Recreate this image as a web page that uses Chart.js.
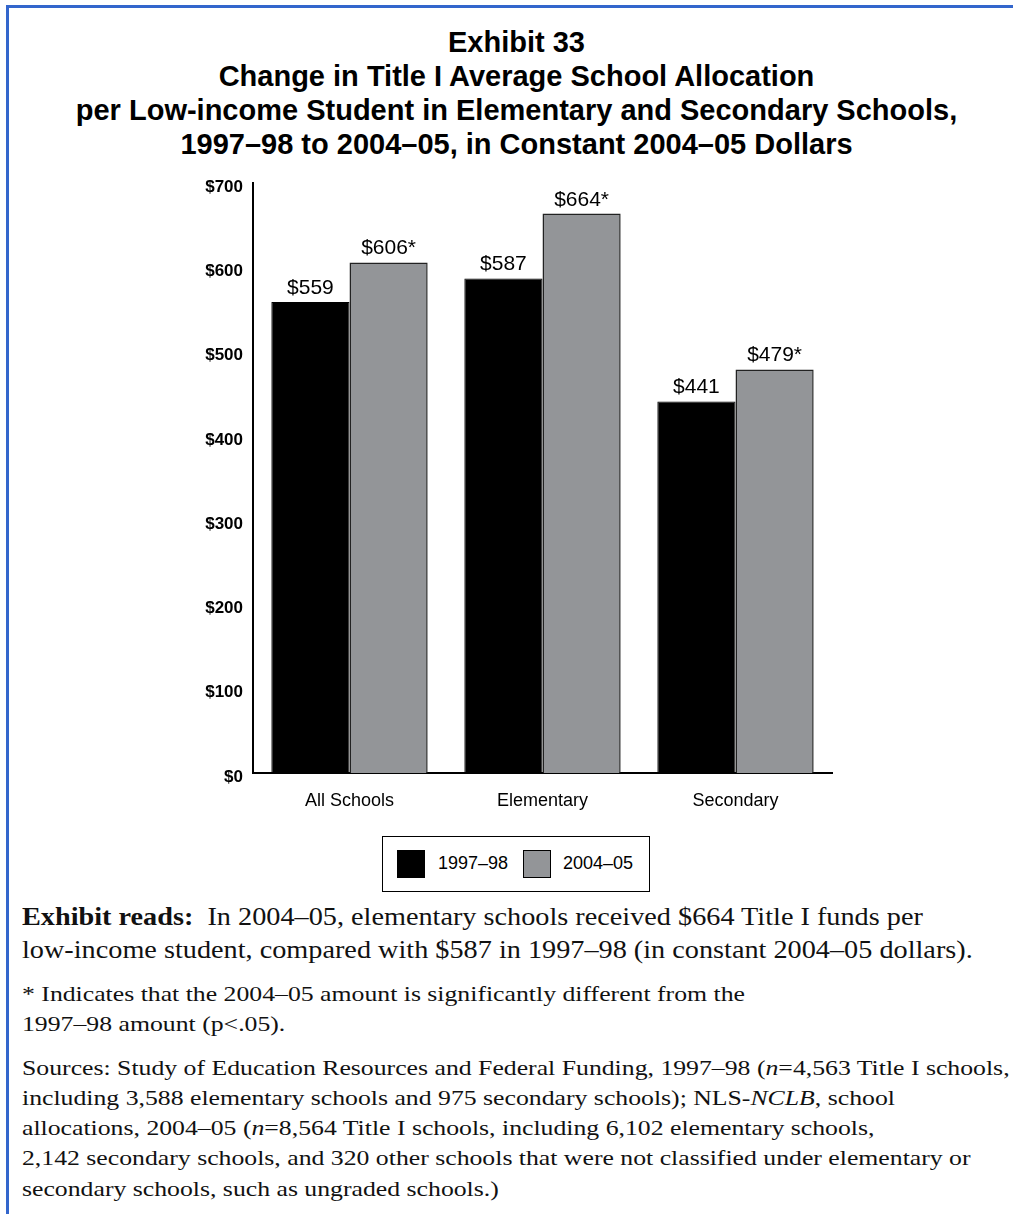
<!DOCTYPE html>
<html>
<head>
<meta charset="utf-8">
<script src="https://cdn.jsdelivr.net/npm/chart.js@4.4.0/dist/chart.umd.min.js"></script>
<style>
  body { margin: 0; background: #fff; }
  #page {
    position: absolute; left: 6px; top: 5px; width: 1007px; height: 1209px;
    border-left: 3px solid #3366cc; border-top: 3px solid #3366cc;
    box-sizing: border-box;
  }
  #title {
    position: absolute; left: 0; top: 25px; width: 1033px; text-align: center;
    font: bold 29px "Liberation Sans", Arial, sans-serif; line-height: 34px; color: #000;
  }
  #wrap { position: absolute; left: 0; top: 163px; width: 1013px; height: 657px; }
  #legend {
    position: absolute; left: 382px; top: 836px; width: 268px; height: 56px;
    border: 1.5px solid #000; box-sizing: border-box;
    font: 18px "Liberation Sans", Arial, sans-serif; color: #000;
  }
  .sw { position: absolute; top: 13px; width: 28px; height: 28px; box-sizing: border-box; border: 1px solid #000; }
  .lt { position: absolute; top: 16px; }
  #notes {
    position: absolute; left: 22px; top: 900px; width: 860px;
    font-family: "Liberation Serif", "Times New Roman", serif; color: #111; white-space: nowrap;
    transform: scaleX(1.17); transform-origin: 0 0;
  }
  .big { font-size: 24.15px; line-height: 33px; }
  .small { font-size: 22px; line-height: 30.25px; margin-top: 13px; }
</style>
</head>
<body>
<div id="page"></div>
<div id="title">Exhibit 33<br>Change in Title I Average School Allocation<br>per Low-income Student in Elementary and Secondary Schools,<br>1997–98 to 2004–05, in Constant 2004–05 Dollars</div>
<div id="wrap"><canvas id="grafico"></canvas></div>
<div id="legend">
  <div class="sw" style="left:14px;background:#000"></div><div class="lt" style="left:55px">1997–98</div>
  <div class="sw" style="left:140px;background:#939598"></div><div class="lt" style="left:180px">2004–05</div>
</div>
<div id="notes">
  <div class="big"><b>Exhibit reads:</b>&nbsp; In 2004–05, elementary schools received $664 Title I funds per<br>low-income student, compared with $587 in 1997–98 (in constant 2004–05 dollars).</div>
  <div class="small">* Indicates that the 2004–05 amount is significantly different from the<br>1997–98 amount (p&lt;.05).</div>
  <div class="small">Sources: Study of Education Resources and Federal Funding, 1997–98 (<i>n</i>=4,563 Title I schools,<br>including 3,588 elementary schools and 975 secondary schools); NLS-<i>NCLB</i>, school<br>allocations, 2004–05 (<i>n</i>=8,564 Title I schools, including 6,102 elementary schools,<br>2,142 secondary schools, and 320 other schools that were not classified under elementary or<br>secondary schools, such as ungraded schools.)</div>
</div>
<script>
const categorias = ['All Schools', 'Elementary', 'Secondary'];
const valores9798 = [559, 587, 441];
const valores0405 = [606, 664, 479];
const rotulos0405 = ['$606*', '$664*', '$479*'];
const ticksY = [0, 100, 200, 300, 400, 500, 600, 700];

const rotulosBarras = {
  id: 'rotulosBarras',
  afterDatasetsDraw(chart) {
    const ctx = chart.ctx;
    ctx.save();
    ctx.font = '21px "Liberation Sans", Arial, sans-serif';
    ctx.fillStyle = '#000';
    ctx.textAlign = 'center';
    ctx.textBaseline = 'alphabetic';
    chart.data.datasets.forEach((ds, i) => {
      chart.getDatasetMeta(i).data.forEach((bar, j) => {
        const txt = i === 0 ? '$' + ds.data[j] : rotulos0405[j];
        ctx.fillText(txt, bar.x, bar.y - 8);
      });
    });
    ctx.restore();
  }
};

new Chart(document.getElementById('grafico'), {
  type: 'bar',
  data: {
    labels: categorias,
    datasets: [
      { label: '1997–98', data: valores9798, backgroundColor: '#000', borderColor: '#000', borderWidth: 1 },
      { label: '2004–05', data: valores0405, backgroundColor: '#939598', borderColor: '#222', borderWidth: 1.5 }
    ]
  },
  options: {
    responsive: true,
    maintainAspectRatio: false,
    animation: false,
    layout: { padding: { top: 12, right: 181, left: 0, bottom: 0 } },
    plugins: { legend: { display: false }, tooltip: { enabled: false } },
    datasets: { bar: { categoryPercentage: 0.81, barPercentage: 1.0 } },
    scales: {
      x: {
        grid: { display: false, drawTicks: false },
        border: { color: '#000', width: 2 },
        ticks: { color: '#000', font: { size: 18, family: '"Liberation Sans", Arial, sans-serif' }, padding: 17 },
        afterFit: s => { s.height = 47; }
      },
      y: {
        min: 0, max: 700,
        afterBuildTicks: s => { s.ticks = ticksY.map(v => ({ value: v })); },
        grid: { display: false, drawTicks: false },
        border: { color: '#000', width: 2 },
        ticks: {
          color: '#000', padding: 10, labelOffset: 4,
          font: { size: 17, weight: 'bold', family: '"Liberation Sans", Arial, sans-serif' },
          callback: v => '$' + v
        },
        afterFit: s => { s.width = 253; }
      }
    }
  },
  plugins: [rotulosBarras]
});
</script>
</body>
</html>
